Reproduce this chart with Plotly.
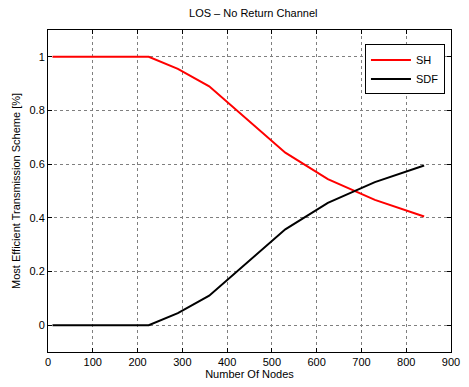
import plotly.graph_objects as go

nodes = [10, 225, 290, 360, 530, 625, 730, 840]
sh = [1.0, 1.0, 0.955, 0.89, 0.643, 0.544, 0.467, 0.405]
sdf = [0.0, 0.0, 0.045, 0.11, 0.357, 0.456, 0.533, 0.595]
x_ticks = [0, 100, 200, 300, 400, 500, 600, 700, 800, 900]
y_ticks = [0, 0.2, 0.4, 0.6, 0.8, 1]
y_labels = ["0", "0.2", "0.4", "0.6", "0.8", "1"]

fig = go.Figure()
fig.add_trace(go.Scatter(x=nodes, y=sh, mode="lines", name="SH",
                         line=dict(color="#ff0000", width=2)))
fig.add_trace(go.Scatter(x=nodes, y=sdf, mode="lines", name="SDF",
                         line=dict(color="#000000", width=2)))

axis_common = dict(showline=True, linecolor="black", linewidth=1, mirror="allticks",
                   ticks="inside", ticklen=4, tickcolor="black",
                   showgrid=True, gridcolor="#7f7f7f", griddash="dot", gridwidth=1,
                   zeroline=False, tickfont=dict(size=11, color="black"))

fig.update_layout(
    width=469, height=387,
    margin=dict(l=48, r=9, t=30, b=33),
    paper_bgcolor="white", plot_bgcolor="white",
    font=dict(family="Liberation Sans, Arial, sans-serif", size=11, color="black"),
    title=dict(text="LOS – No Return Channel", x=0.54, xanchor="center", y=0.975, yanchor="top",
               font=dict(size=11)),
    xaxis=dict(range=[0, 900], tickvals=x_ticks,
               title=dict(text="Number Of Nodes", standoff=2, font=dict(size=11)), **axis_common),
    yaxis=dict(range=[-0.1, 1.1], tickvals=y_ticks, ticktext=y_labels,
               title=dict(text="Most Efficient Transmission Scheme [%]", standoff=6, font=dict(size=11)),
               **axis_common),
    legend=dict(x=0.985, y=0.955, xanchor="right", yanchor="top",
                bgcolor="white", bordercolor="black", borderwidth=1,
                font=dict(size=11), tracegroupgap=0, itemwidth=40),
    showlegend=True,
)

fig.write_html("out.html")
